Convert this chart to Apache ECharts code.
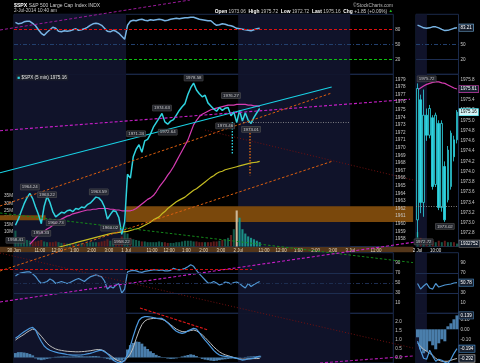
<!DOCTYPE html>
<html>
<head>
<meta charset="utf-8">
<script src="https://cdn.jsdelivr.net/npm/echarts@6.0.0/dist/echarts.min.js"></script>
<style>
html,body{margin:0;padding:0;background:#000;}
#chart{width:480px;height:363px;}
</style>
</head>
<body>
<div id="chart"></div>
<script>
// ---------------- DATA ----------------
// main chart: 10-minute slots, 39 per session (30 Jun, 1 Jul, 2 Jul partial)
const xTickSlots = [0,9,15,21,27,33,39,48,54,60,66,72,78,87,93,99,105,111,117,126];
const xTickLabels = ['30 Jun','11:00','12:00','1:00','2:00','3:00','1 Jul','11:00','12:00','1:00','2:00','3:00','2 Jul','11:00','12:00','1:00','2:00','3:00','3 Jul','11:00'];
const sessionShade = [[0,39],[78,117]];
const priceTicks = [1958,1959,1960,1961,1962,1963,1964,1965,1966,1967,1968,1969,1970,1971,1972,1973,1974,1975,1976,1977,1978,1979];
const volumeTicks = [10,15,20,25,30,35];
const topTicks = [20,50,80];
const topLevels = [80,50,20];
const rsiTicks = [10,30,50,70,90];
const rsiLevels = [70,50,30];
const macdTicks = [0,0.5,1,1.5,2];

const price = [
1959.8,1960.6,1961.6,1962.6,1963.4,1964.0,1963.3,1962.2,1961.2,1960.0,
1962.3,1963.6,1962.8,1961.6,1960.9,1961.2,1961.5,1961.4,1961.7,1961.8,
1961.6,1962.0,1961.9,1962.2,1962.1,1962.5,1962.7,1963.1,1963.5,1963.4,
1963.0,1962.2,1960.6,1961.2,1961.7,1961.6,1960.8,1958.6,1960.2,
1966.5,1966.0,1968.8,1969.8,1970.4,1969.4,1970.9,1971.1,1971.8,1972.7,
1973.3,1973.9,1974.5,1973.4,1973.1,1973.5,1973.7,1974.3,1974.9,1975.4,
1975.8,1977.0,1977.9,1978.5,1977.6,1977.1,1976.7,1976.9,1975.9,1975.5,
1975.1,1974.8,1975.3,1974.9,1975.2,1975.3,1974.2,1974.7,1973.3,
1974.9,1973.5,1974.6,1973.6,1973.2,1974.0,1974.6,1975.16];

const maPink = [null,null,null,null,null,
1957.3,1957.7,1958.1,1958.5,1958.8,
1959.0,1959.3,1959.5,1959.8,1960.1,1960.4,1960.6,1960.8,1961.0,1961.1,
1961.3,1961.4,1961.5,1961.6,1961.7,1961.8,1961.8,1961.9,1961.9,1962.0,
1962.0,1962.0,1962.0,1961.9,1961.9,1961.8,1961.8,1961.7,1961.7,
1961.7,1961.7,1961.8,1962.0,1962.3,1962.6,1962.9,1963.2,1963.4,1963.7,
1964.2,1964.8,1965.3,1965.8,1966.4,1966.9,1967.5,1968.2,1968.9,1969.6,
1970.3,1971.0,1972.0,1973.0,1973.6,1974.1,1974.4,1974.6,1974.8,1975.0,
1975.1,1975.2,1975.3,1975.4,1975.5,1975.6,1975.6,1975.6,1975.7,
1975.7,1975.7,1975.7,1975.6,1975.6,1975.5,1975.5,1975.4];

const maYellow = [null,null,null,null,null,null,null,null,null,null,null,null,null,null,null,
1956.9,1957.0,1957.1,1957.2,1957.3,1957.4,1957.5,1957.6,1957.7,1957.8,
1957.9,1958.0,1958.1,1958.2,1958.3,1958.4,1958.5,1958.6,1958.7,1958.75,
1958.8,1958.85,1958.9,1958.95,
1959.0,1959.1,1959.2,1959.3,1959.4,1959.6,1959.8,1960.0,1960.2,1960.5,
1960.7,1960.9,1961.3,1961.6,1962.0,1962.3,1962.6,1962.9,1963.1,1963.3,
1963.5,1963.8,1964.1,1964.4,1964.6,1964.9,1965.2,1965.5,1965.8,1966.1,
1966.3,1966.6,1966.8,1966.9,1967.1,1967.2,1967.3,1967.4,1967.5,
1967.6,1967.7,1967.8,1967.9,1968.0,1968.05,1968.1,1968.2];

// volume in millions
const volume = [
11,6,5,5,4.5,4,4,3.5,4,4.5,3.5,3,3,3,3.5,3,2.5,2.5,2,2,2.5,2,2,2.5,2,2.5,3,3,3,3,3.5,4,5,4,3.5,4,5,7,10,
9,6,5,4.5,4,3.5,3.5,3,3,3,3,3.5,3,3,2.5,2.5,2.5,3,3,3.5,4,4,4,3.5,3.5,3,3,3,3,3,3.5,3.5,4,4.5,5,6,8,12,25,
20,12,9,7,6,5,4,3];
const volumeHighlight = [77];

const topInd = [
94,91,92,95,96,96,92,87,79,72,68,74,79,84,82,76,75,77,76,77,79,81,78,79,81,84,88,91,92,91,88,82,76,75,78,76,72,66,60,
88,96,98,97,99,100,98,97,99,98,99,100,99,97,98,100,101,102,101,102,103,103,104,104,102,100,99,98,97,97,92,88,89,91,90,88,87,85,82,
81,80,79,78,77,79,81,82];

const rsi = [
64,68,70,71,72,72,68,63,55,49,51,53,58,55,49,51,53,51,49,51,54,57,59,56,53,58,62,64,66,64,62,54,38,43,40,46,49,30,38,
72,74,75,74,72,71,73,74,75,76,76,75,76,74,74,75,79,77,76,77,79,82,86,83,75,68,62,56,50,50,53,50,46,48,52,51,48,51,52,
49,44,40,49,43,47,50,53];

const macd = [
1.08,1.2,1.33,1.45,1.55,1.65,1.7,1.55,1.2,0.9,0.65,0.5,0.41,0.35,0.3,0.26,0.23,0.2,0.17,0.15,
0.13,0.13,0.14,0.15,0.17,0.2,0.23,0.28,0.34,0.39,0.41,0.33,0.22,0.05,-0.15,-0.24,-0.3,-0.28,-0.15,
0.2,0.65,1.2,1.7,2.1,2.25,2.3,2.3,2.28,2.25,2.22,2.2,2.2,2.1,1.95,1.8,1.62,1.48,1.4,1.36,
1.4,1.5,1.57,1.64,1.6,1.4,1.18,0.98,0.8,0.6,0.4,0.25,0.14,0.09,0.06,0.04,0.02,-0.01,-0.05,
-0.1,-0.15,-0.12,-0.08,-0.06,-0.03,0.02,0.07];

const signal = [
0.98,1.1,1.2,1.3,1.42,1.52,1.6,1.55,1.38,1.2,1.0,0.8,0.66,0.56,0.48,0.43,0.4,0.37,0.35,0.34,
0.33,0.32,0.32,0.33,0.34,0.36,0.38,0.41,0.44,0.45,0.43,0.36,0.22,0.13,0.0,-0.12,-0.2,-0.25,-0.18,
-0.02,0.2,0.55,1.05,1.5,1.85,2.05,2.15,2.18,2.2,2.2,2.18,2.15,2.08,1.98,1.85,1.72,1.6,1.52,1.46,
1.45,1.48,1.52,1.55,1.5,1.4,1.28,1.12,0.95,0.78,0.6,0.45,0.32,0.22,0.15,0.1,0.05,0.0,-0.05,
-0.08,-0.09,-0.09,-0.08,-0.07,-0.06,-0.06,-0.05];

const hist = [
0.25,0.3,0.3,0.28,0.25,0.2,0.12,-0.05,-0.12,-0.15,-0.12,-0.08,-0.05,0.02,0.04,0.05,0.06,0.07,0.06,0.05,
0.06,0.07,0.08,0.07,0.06,0.06,0.07,0.08,0.08,0.06,0.02,-0.04,-0.08,-0.12,-0.15,-0.16,-0.17,-0.18,-0.08,
0.45,0.7,0.82,0.9,0.88,0.78,0.62,0.48,0.35,0.25,0.15,0.08,0.03,-0.03,-0.06,-0.08,-0.07,-0.05,0.02,0.06,
0.1,0.14,0.18,0.15,0.08,-0.02,-0.08,-0.12,-0.15,-0.18,-0.2,-0.18,-0.15,-0.12,-0.1,-0.08,-0.06,-0.05,-0.04,
-0.02,0.01,0.03,0.05,0.06,0.07,0.08,0.1];

// price-extreme notes (slot, value, above?)
const noteSlots  = [0,5,11,9,14,29,33,37,42,51,53,62,75,73,82];
const noteValues = [1958.41,1964.24,1963.22,1959.33,1960.73,1963.59,1960.02,1958.22,1971.24,1974.63,1972.64,1978.58,1976.27,1973.46,1973.01];
const noteAbove  = [0,1,1,0,0,1,0,0,1,1,0,1,1,0,0];

// price gap zones: [fromSlot, toSlot, low, high]
const gapZones = [[-4.9,11,1960.45,1961.1],[39,138.9,1960.23,1962.29]];

// annotation lines (slot, value) in the pane they belong to
const cyanTrend        = [[-4.87,1966.71],[110.56,1977.99]];
const magentaTrendMain = [[-4.87,1972.24],[137.8,1976.37]];
const orangeTrendUpper = [[-4.87,1962.33],[110.56,1977.2]];
const orangeTrendLower = [[-4.87,1953.78],[111.0,1968.25]];
const greenTrend       = [[-4.87,1961.41],[138.86,1954.88]];
const magentaTrendLow  = [[-4.87,1949.7],[139.55,1957.59]];
const magentaTrendMacd = [[106.49,1941.67],[138.86,1942.59]];
const redDotLong       = [[-4.87,1956.14],[138.86,1943.64]];
const redDotMain       = [[66.47,1972.33],[138.86,1965.75]];
const magentaTrendTop  = [[-4.87,78.6],[61.25,138.6]];
const redDivergence    = [[43.85,2.79],[67.51,1.55]];
const redRsiLevel      = [[-4.87,76.7],[82.83,76.7]];
const cyanMark         = [[75.97,1973.38],[75.97,1969.17]];
const orangeMark       = [[82.13,1972.72],[82.13,1966.37]];
const priorClose       = [[79.7,1973.32],[116.6,1973.32]];

// right mini panel: 2 Jul, 5-minute bars
const miniTimes = ['9:30','9:35','9:40','9:45','9:50','9:55','10:00','10:05','10:10','10:15','10:20','10:25','10:30','10:35'];
const miniTickIdx = [0,6];
const miniTickText = ['2 Jul','10:00'];
const miniShade = [[0,3.6]];
const miniPriceTicks = [1972.8,1973.0,1973.2,1973.4,1973.6,1973.8,1974.0,1974.2,1974.4,1974.6,1974.8,1975.0,1975.2,1975.4,1975.6,1975.8];
const miniTopTicks = [20,50];
const miniRsiTicks = [10,30,70,90];
const miniMacdTicks = [0.1,0,-0.1];
// [open, close, low, high]
const miniOHLC = [
[1973.06,1975.62,1972.72,1975.72],
[1975.40,1973.40,1973.19,1975.50],
[1973.40,1975.10,1973.12,1975.60],
[1975.10,1974.71,1974.60,1975.23],
[1974.71,1975.23,1974.65,1975.30],
[1975.05,1973.71,1973.65,1975.10],
[1973.75,1975.10,1973.70,1975.15],
[1974.94,1973.30,1973.25,1975.00],
[1973.30,1974.94,1973.22,1975.00],
[1974.10,1973.06,1973.02,1974.20],
[1973.45,1974.42,1973.40,1974.50],
[1973.71,1974.75,1973.65,1974.80],
[1974.62,1974.29,1974.20,1974.70],
[1974.62,1975.16,1974.55,1975.20]];
const miniMa = [1975.59,1975.63,1975.67,1975.70,1975.72,1975.74,1975.75,1975.75,1975.73,1975.72,1975.69,1975.66,1975.63,1975.61];
const miniVol = [10,6,5,4,4,4,3,4,3,4,3,3,3,2];
const miniVolLast = 1.93;
const miniTop = [88.5,86,83,82,83,85,85,83,80,77.5,78,80,82,83.21];
const miniRsi = [49,38,44,49,40,38,49,42,44,46,47,48,50,50.78];
const miniMacd = [-0.12,-0.21,-0.29,-0.3,-0.21,-0.27,-0.32,-0.3,-0.31,-0.33,-0.34,-0.3,-0.24,-0.194];
const miniSignal = [-0.14,-0.17,-0.2,-0.22,-0.24,-0.26,-0.29,-0.31,-0.32,-0.32,-0.32,-0.31,-0.3,-0.292];
const miniHist = [-0.08,-0.2,-0.24,-0.22,-0.12,-0.16,-0.2,-0.14,-0.1,-0.12,0.03,0.06,0.1,0.139];
const miniNoteIdx = [3,9,2];
const miniNoteValues = [1975.72,1973.02,1972.72];
const miniNoteAbove = [1,0,0];

// ---------------- CHART ----------------
const FONT = 'Liberation Sans';
const AX = '#c8c8c8';
const NAVY = '#10132a';
const CYAN = '#2fd3df';
const PINK = '#d63cb2';
const chart = echarts.init(document.getElementById('chart'), null, {width:480, height:363});

const rowTop = [14.3,74.3,252.7,313.3];
const rowH = [60,172.2,60.6,49.7];
const grids = [];
for (let k = 0; k < 2; k++) for (let r = 0; r < 4; r++) grids.push({
  left: k ? 416 : 14, top: rowTop[r], width: k ? 42.5 : 379.3, height: rowH[r],
  show: true, borderColor: '#1b2a4a', borderWidth: 1, backgroundColor: 'transparent',
  containLabel: false, outerBoundsMode: 'none'
});

const noAxis = {axisLine:{show:false}, axisTick:{show:false}, splitLine:{show:false}};
const xAxes = [];
for (let r = 0; r < 4; r++) xAxes.push(Object.assign({
  type:'value', gridIndex:r, min:0, max:132,
  axisLabel: r === 1 ? {show:true, customValues:xTickSlots,
    formatter: v => { const i = xTickSlots.indexOf(v); return i >= 0 ? xTickLabels[i] : ''; },
    fontSize:4.5, fontFamily:FONT, color:'#e2d6bc', margin:1.6} : {show:false}
}, noAxis));
for (let r = 0; r < 4; r++) xAxes.push(Object.assign({
  type:'category', gridIndex:4 + r, data:miniTimes, boundaryGap:true,
  axisLabel: r === 1 ? {show:true, interval:(i) => miniTickIdx.includes(i),
    formatter:(v, i) => { const j = miniTickIdx.indexOf(i); return j >= 0 ? miniTickText[j] : ''; },
    fontSize:4.5, fontFamily:FONT, color:'#e0e0e0', margin:1.6} : {show:false}
}, noAxis));

function yAx(gi, min, max, ticks, fmt, pos, extra) {
  return Object.assign({
    type:'value', gridIndex:gi, min:min, max:max, position: pos || 'right',
    axisLabel:{show:!!ticks, customValues: ticks || [], formatter: fmt || (v => String(v)),
      fontSize:4.6, fontFamily:FONT, color:AX, margin: pos === 'left' ? 1 : 2}
  }, noAxis, extra || {});
}
const yAxes = [
  yAx(0, -10, 110, topTicks),
  yAx(1, 1957, 1979.66, priceTicks, null, 'right', {z:10}),
  yAx(1, 0, 119.5, volumeTicks, v => v + 'M', 'left'),
  yAx(2, -10, 110, rsiTicks),
  yAx(3, -0.31, 2.49, macdTicks, v => v.toFixed(1)),
  yAx(4, -10, 110, miniTopTicks),
  yAx(5, 1972.541, 1975.897, miniPriceTicks, v => v.toFixed(1)),
  yAx(5, 0, 119.5, null, null, 'left', {show:false}),
  yAx(6, -10, 110, miniRsiTicks),
  yAx(7, -0.337, 0.16, miniMacdTicks, v => v.toFixed(2))
];

const pts = arr => arr.map((v, i) => v == null ? null : [i + 0.5, v]).filter(Boolean);
const S = [];

// session shading
const yOfRow = [0,1,3,4];
for (let r = 0; r < 4; r++) S.push({
  type:'custom', xAxisIndex:r, yAxisIndex:yOfRow[r], z:0, silent:true,
  data: sessionShade.map(s => [s[0], s[1], 0]), encode:{x:[0,1], y:2},
  renderItem:(p, api) => {
    const cs = p.coordSys;
    const a = api.coord([api.value(0), 0])[0], b = api.coord([api.value(1), 0])[0];
    return {type:'rect', shape:{x:a, y:cs.y, width:b - a, height:cs.height}, style:{fill:NAVY}};
  }
});
const yOfMini = [5,6,8,9];
for (let r = 0; r < 4; r++) S.push({
  type:'custom', xAxisIndex:4 + r, yAxisIndex:yOfMini[r], z:0, silent:true,
  data: miniShade,
  renderItem:(p, api) => {
    const cs = p.coordSys, bw = cs.width / miniTimes.length;
    const a = cs.x + api.value(0) * bw, b = cs.x + api.value(1) * bw;
    return {type:'rect', shape:{x:a, y:cs.y, width:b - a, height:cs.height}, style:{fill:NAVY}};
  }
});

// gap zones
S.push({
  type:'custom', xAxisIndex:1, yAxisIndex:1, z:1, silent:true,
  data: gapZones, encode:{x:[0,1], y:[2,3]},
  renderItem:(p, api) => {
    const a = api.coord([api.value(0), api.value(3)]);
    const b = api.coord([api.value(1), api.value(2)]);
    return {type:'rect', shape:{x:a[0], y:a[1], width:b[0] - a[0], height:b[1] - a[1]}, style:{fill:'#7a480c'}};
  }
});

// volume
function volColor(i) {
  if (volumeHighlight.includes(i)) return '#cdb89a';
  if (i >= 78) return '#1b8f86';
  return (i > 0 && price[i] < price[i - 1]) ? '#5e1c1c' : '#13584a';
}
S.push({type:'bar', xAxisIndex:1, yAxisIndex:2, z:2, barWidth:2.1, silent:true,
  data: volume.map((v, i) => ({value:[i + 0.5, v], itemStyle:{color:volColor(i)}}))});

// moving averages and price
S.push({type:'line', xAxisIndex:1, yAxisIndex:1, z:3, silent:true, showSymbol:false, data:pts(maYellow),
  lineStyle:{color:'#c6bd22', width:1.2}});
S.push({type:'line', xAxisIndex:1, yAxisIndex:1, z:3, silent:true, showSymbol:false, data:pts(maPink),
  lineStyle:{color:PINK, width:1.2}});
S.push({type:'line', xAxisIndex:1, yAxisIndex:1, z:3, silent:true, showSymbol:false, data:pts(price),
  lineStyle:{color:CYAN, width:1.5}});

// notes
const noteLabel = {show:true, fontSize:4.4, fontFamily:FONT, color:'#ececec', backgroundColor:'#2a2d36',
  borderColor:'#5a5a5a', borderWidth:0.5, padding:[0.8,1.4], distance:1.2};
S.push({type:'scatter', xAxisIndex:1, yAxisIndex:1, z:5, silent:true, symbolSize:1, itemStyle:{color:'rgba(0,0,0,0)'},
  data: noteSlots.map((s, i) => ({value:[s + 0.5, noteValues[i]],
    label:Object.assign({}, noteLabel, {position: noteAbove[i] ? 'top' : 'bottom', formatter: noteValues[i].toFixed(2)})}))});

// top indicator
S.push({type:'line', xAxisIndex:0, yAxisIndex:0, z:3, silent:true, showSymbol:false, data:pts(topInd),
  lineStyle:{color:'#78b4e4', width:1.5},
  markLine:{silent:true, symbol:'none', label:{show:false}, data:[
    {yAxis:topLevels[0], lineStyle:{color:'#e01010', type:[3,2], width:1.2}},
    {yAxis:topLevels[1], lineStyle:{color:'#22406e', type:[4,2,1,2], width:1}},
    {yAxis:topLevels[2], lineStyle:{color:'#10c010', type:[3,2], width:1.2}}]}});

// RSI
S.push({type:'line', xAxisIndex:2, yAxisIndex:3, z:3, silent:true, showSymbol:false, data:pts(rsi),
  lineStyle:{color:'#4f95d2', width:1.2},
  markLine:{silent:true, symbol:'none', label:{show:false}, data:[
    {yAxis:rsiLevels[0], lineStyle:{color:'#1d2d50', type:'solid', width:1}},
    {yAxis:rsiLevels[1], lineStyle:{color:'#1d2d50', type:[4,2,1,2], width:1}},
    {yAxis:rsiLevels[2], lineStyle:{color:'#1d2d50', type:'solid', width:1}}]}});

// MACD
S.push({type:'bar', xAxisIndex:3, yAxisIndex:4, z:2, silent:true, barWidth:2.9, data:pts(hist),
  itemStyle:{color:'#4a7eab'}});
S.push({type:'line', xAxisIndex:3, yAxisIndex:4, z:3, silent:true, showSymbol:false, data:pts(signal),
  lineStyle:{color:'#bdbdbd', width:1}});
S.push({type:'line', xAxisIndex:3, yAxisIndex:4, z:3, silent:true, showSymbol:false, data:pts(macd),
  lineStyle:{color:'#4d9ae0', width:1.2}});

// ---- mini panel ----
S.push({type:'line', xAxisIndex:4, yAxisIndex:5, z:3, silent:true, showSymbol:false, data:miniTop,
  lineStyle:{color:'#78b4e4', width:1.4},
  markLine:{silent:true, symbol:'none', label:{show:false}, data:[
    {yAxis:topLevels[1], lineStyle:{color:'#22406e', type:[4,2,1,2], width:1}},
    {yAxis:topLevels[2], lineStyle:{color:'#1d2d50', type:'solid', width:1}}]}});
S.push({type:'bar', xAxisIndex:5, yAxisIndex:7, z:2, silent:true, barWidth:2,
  data: miniVol.map((v, i) => ({value:v, itemStyle:{color: (i > 0 && miniOHLC[i][1] < miniOHLC[i - 1][1]) ? '#5e1c1c' : '#13584a'}}))});
S.push({type:'candlestick', xAxisIndex:5, yAxisIndex:6, z:3, silent:true, barWidth:2.2, data:miniOHLC,
  itemStyle:{color:'#061417', borderColor:CYAN, color0:CYAN, borderColor0:CYAN, borderWidth:0.8},
  markLine:{silent:true, symbol:'none', label:{show:false},
    data:[{yAxis:priorClose[0][1], lineStyle:{color:'#9a9a9a', type:[1,1.5], width:0.8}}]}});
S.push({type:'line', xAxisIndex:5, yAxisIndex:6, z:3, silent:true, showSymbol:false, data:miniMa,
  lineStyle:{color:PINK, width:1.2}});
S.push({type:'scatter', xAxisIndex:5, yAxisIndex:6, z:5, silent:true, symbolSize:1, itemStyle:{color:'rgba(0,0,0,0)'},
  data: miniNoteIdx.map((s, i) => ({value:[s, miniNoteValues[i]],
    label:Object.assign({}, noteLabel, {position: miniNoteAbove[i] ? 'top' : 'bottom', formatter: miniNoteValues[i].toFixed(2)})}))});
S.push({type:'line', xAxisIndex:6, yAxisIndex:8, z:3, silent:true, showSymbol:false, data:miniRsi,
  lineStyle:{color:'#4f95d2', width:1.2},
  markLine:{silent:true, symbol:'none', label:{show:false}, data:[
    {yAxis:rsiLevels[0], lineStyle:{color:'#1d2d50', type:'solid', width:1}},
    {yAxis:rsiLevels[2], lineStyle:{color:'#1d2d50', type:'solid', width:1}}]}});
S.push({type:'bar', xAxisIndex:7, yAxisIndex:9, z:2, silent:true, barWidth:3, data:miniHist,
  itemStyle:{color:'#4a7eab'}});
S.push({type:'line', xAxisIndex:7, yAxisIndex:9, z:3, silent:true, showSymbol:false, data:miniSignal,
  lineStyle:{color:'#bdbdbd', width:1}});
S.push({type:'line', xAxisIndex:7, yAxisIndex:9, z:3, silent:true, showSymbol:false, data:miniMacd,
  lineStyle:{color:'#4d9ae0', width:1.2}});

chart.setOption({
  backgroundColor:'#000', animation:false, textStyle:{fontFamily:FONT},
  grid:grids, xAxis:xAxes, yAxis:yAxes, series:S
});

// ---------------- GRAPHIC OVERLAYS ----------------
const toPx = (xa, ya, p) => chart.convertToPixel({xAxisIndex:xa, yAxisIndex:ya}, p);
const G = [];
G.push({type:'rect', shape:{x:0, y:246.8, width:413.5, height:5.4}, style:{fill:'#54361a'}, z:-1, silent:true});

const annos = [
  {p:cyanTrend, a:[1,1], c:'#19d3e6', w:1.1},
  {p:magentaTrendMain, a:[1,1], c:'#c81ec8', w:1.1, d:[3,2]},
  {p:orangeTrendUpper, a:[1,1], c:'#dc5e0e', w:1, d:[2.5,2]},
  {p:orangeTrendLower, a:[1,1], c:'#dc5e0e', w:1, d:[2.5,2]},
  {p:greenTrend, a:[1,1], c:'#14881a', w:1, d:[2.5,2]},
  {p:magentaTrendLow, a:[1,1], c:'#c81ec8', w:1.1, d:[3,2]},
  {p:magentaTrendMacd, a:[1,1], c:'#b01ab0', w:1.1, d:[3,2]},
  {p:redDotLong, a:[1,1], c:'#701010', w:1, d:[1,2]},
  {p:redDotMain, a:[1,1], c:'#701010', w:1, d:[1,2]},
  {p:magentaTrendTop, a:[0,0], c:'#9a1a9a', w:1, d:[3,2]},
  {p:redDivergence, a:[3,4], c:'#e01818', w:1.1, d:[3,1.5]},
  {p:redRsiLevel, a:[2,3], c:'#d01010', w:1, d:[3,2]},
  {p:cyanMark, a:[1,1], c:'#30e0f0', w:1.3, d:[1.5,1.5]},
  {p:orangeMark, a:[1,1], c:'#f07010', w:1.3, d:[1.5,1.5]},
  {p:priorClose, a:[1,1], c:'#9a9a9a', w:0.8, d:[1,1.5]}
];
annos.forEach(o => {
  const p1 = toPx(o.a[0], o.a[1], o.p[0]), p2 = toPx(o.a[0], o.a[1], o.p[1]);
  G.push({type:'line', shape:{x1:p1[0], y1:p1[1], x2:p2[0], y2:p2[1]},
    style:{stroke:o.c, lineWidth:o.w, lineDash:o.d || null}, z:4, silent:true});
});

// header texts
G.push({type:'text', x:14, y:5.6, z:6, silent:true, style:{
  text:'{b|$SPX} S&P 500 Large Cap Index INDX', fill:'#cfcfcf', fontSize:5, fontFamily:FONT, verticalAlign:'middle',
  rich:{b:{fill:'#ffffff', fontWeight:'bold', fontSize:5.2, fontFamily:FONT}}}});
G.push({type:'text', x:14, y:11.2, z:6, silent:true, style:{
  text:'2-Jul-2014 10:40 am', fill:'#c8c8c8', fontSize:4.7, fontFamily:FONT, verticalAlign:'middle'}});
G.push({type:'text', x:393, y:5.6, z:6, silent:true, style:{
  text:'\u00A9StockCharts.com', fill:'#b8b8b8', fontSize:4.8, fontFamily:FONT, verticalAlign:'middle', align:'right'}});
const oo = miniOHLC[0][0], hh = Math.max(...miniOHLC.map(d => d[3])), ll = Math.min(...miniOHLC.map(d => d[2])), la = miniOHLC[miniOHLC.length - 1][1];
G.push({type:'text', x:393, y:11.2, z:6, silent:true, style:{
  text:'{k|Open} ' + oo.toFixed(2) + '  {k|High} ' + hh.toFixed(2) + '  {k|Low} ' + ll.toFixed(2) + '  {k|Last} ' + la.toFixed(2) + '  {k|Chg} +1.85 (+0.09%) {g|\u25B2}',
  fill:'#c8c8c8', fontSize:4.8, fontFamily:FONT, verticalAlign:'middle', align:'right',
  rich:{k:{fill:'#ffffff', fontWeight:'bold', fontSize:4.9, fontFamily:FONT}, g:{fill:'#20c020', fontSize:4.5}}}});

// legend of price pane
G.push({type:'text', x:16, y:77.4, z:6, silent:true, style:{
  text:'{s|\u25A0} $SPX (5 min) ' + price[price.length - 1].toFixed(2), fill:'#e6e6e6', fontSize:4.6, fontFamily:FONT,
  verticalAlign:'middle', backgroundColor:'#1b1e2a', padding:[0.6,1.5],
  rich:{s:{fill:CYAN, fontSize:4.6}}}});

// value boxes on the mini panel's right axis
function valBox(xa, ya, val, txt, border, bg, fg) {
  const p = toPx(xa, ya, [0, val]);
  G.push({type:'text', x:459.3, y:p[1], z:7, silent:true, style:{
    text:txt, fill:fg || '#ffffff', fontSize:4.5, fontFamily:FONT, verticalAlign:'middle', align:'left',
    backgroundColor:bg || '#17202e', borderColor:border, borderWidth:0.6, padding:[0.8,1.3]}});
}
const lastOf = a => a[a.length - 1];
valBox(4, 5, lastOf(miniTop), lastOf(miniTop).toFixed(2), '#78b4e4');
valBox(5, 6, lastOf(miniMa), lastOf(miniMa).toFixed(2), PINK);
valBox(5, 6, la, la.toFixed(2), CYAN, '#d6f4f6', '#000');
valBox(5, 7, miniVolLast, '1932752', '#888888');
valBox(6, 8, lastOf(miniRsi), lastOf(miniRsi).toFixed(2), '#4f95d2');
valBox(7, 9, lastOf(miniHist), lastOf(miniHist).toFixed(3), '#4a7eab');
valBox(7, 9, lastOf(miniMacd), lastOf(miniMacd).toFixed(3), '#4d9ae0');
valBox(7, 9, lastOf(miniSignal), lastOf(miniSignal).toFixed(3), '#bdbdbd');

chart.setOption({graphic: G});
</script>
</body>
</html>
